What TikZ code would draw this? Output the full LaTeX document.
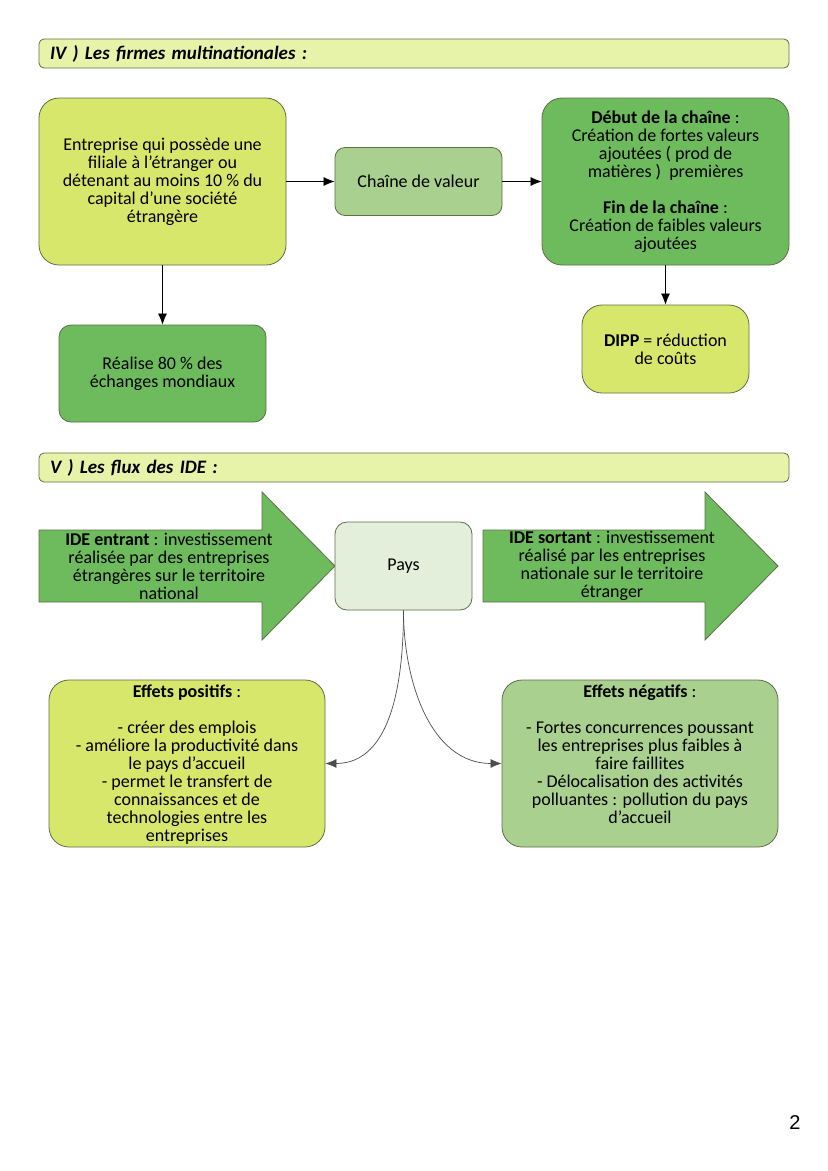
\documentclass[tikz,border=0pt]{standalone}
\usepackage{fontspec}
\setmainfont{Carlito}
\newfontfamily\pagefont{Liberation Sans}
\usetikzlibrary{arrows.meta}
\definecolor{fcLime}{HTML}{D7E76B}
\definecolor{fcGreen}{HTML}{6DBB5D}
\definecolor{fcLight}{HTML}{A9D08E}
\definecolor{fcPale}{HTML}{E3EFDA}
\definecolor{fcHead}{HTML}{E6F3A8}
\definecolor{fcEdge}{HTML}{5E6E48}
\tikzstyle{box} = [draw=fcEdge, line width=0.8pt, rounded corners=20pt, align=center, inner sep=0pt, font=\fontsize{18}{18}\selectfont]
\tikzstyle{txt} = [align=center, inner sep=0pt, font=\fontsize{18}{18}\selectfont]
\tikzstyle{hdr} = [draw=fcEdge, fill=fcHead, line width=0.8pt, rounded corners=5pt, minimum height=29pt, text width=728pt, inner xsep=11pt, align=left, font=\fontsize{19}{20}\selectfont\bfseries\itshape]
\tikzstyle{arrow} = [line width=0.7pt, -{Latex[length=11pt,width=9pt]}]
\tikzstyle{bigarrow} = [draw=fcEdge, fill=fcGreen, line width=0.8pt]

\begin{document}
\begin{tikzpicture}[x=1pt, y=-1pt]
    \useasboundingbox (0,0) rectangle (828,1171);
    % IV ) firmes multinationales
    \node[hdr] (hdrIV) at (414,53.5) {IV ) Les firmes multinationales :};
    \node[box, fill=fcLime, minimum width=247pt, minimum height=167pt] (firme) at (162.5,181.5)
        {Entreprise qui possède une\\ filiale à l’étranger ou\\ détenant au moins 10 \% du\\ capital d’une société\\ étrangère};
    \node[box, fill=fcLight, rounded corners=10pt, minimum width=167pt, minimum height=68pt] (chaine) at (418.5,181.5)
        {Chaîne de valeur};
    \node[box, fill=fcGreen, minimum width=247pt, minimum height=167pt] (debut) at (665.5,181.5)
        {\textbf{Début de la chaîne} :\\ Création de fortes valeurs\\ ajoutées ( prod de\\ matières )~ premières\\[18pt] \textbf{Fin de la chaîne} :\\ Création de faibles valeurs\\ ajoutées};
    \node[box, fill=fcLime, minimum width=167pt, minimum height=88pt] (dipp) at (665.5,349)
        {\textbf{DIPP} = réduction\\ de coûts};
    \node[box, fill=fcGreen, rounded corners=12pt, minimum width=207pt, minimum height=97pt] (echanges) at (162.5,373.5)
        {Réalise 80 \% des\\ échanges mondiaux};
    \draw[arrow] (firme.east) -- (chaine.west);
    \draw[arrow] (chaine.east) -- (debut.west);
    \draw[arrow] (firme.south) -- (echanges.north);
    \draw[arrow] (debut.south) -- (dipp.north);

    % V ) flux des IDE
    \node[hdr] (hdrV) at (414,467.5) {V ) Les flux des IDE :};
    \draw[bigarrow] (39,530) -- (262,530) -- (262,492) -- (335,566) -- (262,640) -- (262,602) -- (39,602) -- cycle;
    \node[txt] (entrant) at (169,566)
        {\textbf{IDE entrant} : investissement\\ réalisée par des entreprises\\ étrangères sur le territoire\\ national};
    \draw[bigarrow] (483,530) -- (705,530) -- (705,492) -- (778,566) -- (705,640) -- (705,602) -- (483,602) -- cycle;
    \node[txt] (sortant) at (612,566)
        {\textbf{IDE sortant} : investissement\\ réalisé par les entreprises\\ nationale sur le territoire\\ étranger};
    \node[box, fill=fcPale, rounded corners=12pt, minimum width=137pt, minimum height=88pt] (pays) at (403.5,566)
        {Pays};
    \node[box, fill=fcLime, minimum width=276pt, minimum height=167pt] (positif) at (187,763.5) {};
    \node[txt, anchor=north] (positifTxt) at ([yshift=-5pt]positif.north)
        {\textbf{Effets positifs} :\\[18pt] - créer des emplois\\ - améliore la productivité dans\\ le pays d’accueil\\ - permet le transfert de\\ connaissances et de\\ technologies entre les\\ entreprises};
    \node[box, fill=fcLight, minimum width=276pt, minimum height=167pt] (negatif) at (640,763.5) {};
    \node[txt, anchor=north] (negatifTxt) at ([yshift=-5pt]negatif.north)
        {\textbf{Effets négatifs} :\\[18pt] - Fortes concurrences poussant\\ les entreprises plus faibles à\\ faire faillites\\ - Délocalisation des activités\\ polluantes : pollution du pays\\ d’accueil};
    \draw[arrow, draw=black!70] (pays.south) to[out=-90, in=0] (positif.east);
    \draw[arrow, draw=black!70] (pays.south) to[out=-90, in=180] (negatif.west);

    \node[font=\fontsize{20}{24}\pagefont] (page) at (795,1123) {2};
\end{tikzpicture}
\end{document}
